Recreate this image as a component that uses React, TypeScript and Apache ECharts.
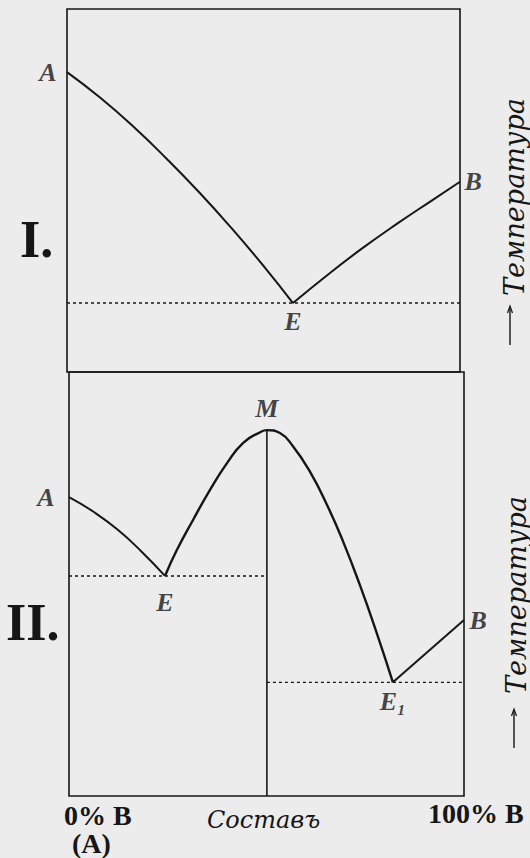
import React, { useEffect, useRef } from "react";
import * as echarts from "echarts";

// ---------- Panel I: simple eutectic (composition % B vs. temperature, relative units)
const p1CurveAE: number[][] = [
  [0, 82.6], [8.4, 75.6], [16.8, 67.7], [25.4, 58.7], [33.8, 49.3], [42.2, 39.2], [50.4, 28.7], [57.5, 19.0],
];
const p1CurveEB: number[][] = [
  [57.5, 19.0], [67.4, 27.7], [75.8, 34.6], [84.2, 41.0], [92.9, 47.3], [100, 52.4],
];
const p1Eutectic: number[][] = [[0, 19.0], [100, 19.0]];

// ---------- Panel II: compound M with two eutectics E and E1
const p2CurveAE: number[][] = [
  [0, 70.5], [6.1, 67.1], [12.2, 62.9], [18.2, 57.8], [24.3, 51.9],
];
const p2CurveEME1: number[][] = [
  [24.3, 51.9], [27.3, 58.0], [31.4, 65.1], [35.7, 72.2], [40.0, 78.5], [44.1, 83.3], [48.4, 85.8],
  [50.1, 86.3], [53.4, 85.6], [56.7, 82.5], [61.0, 76.5], [65.3, 68.7], [69.4, 60.0], [73.7, 49.6],
  [78.0, 38.2], [82.0, 26.8],
];
const p2CurveE1B: number[][] = [[82.0, 26.8], [100, 41.5]];
const p2EutecticE: number[][] = [[0, 51.9], [50.1, 51.9]];
const p2EutecticE1: number[][] = [[50.1, 26.8], [100, 26.8]];
const p2Compound: number[][] = [[50.1, 86.3], [50.1, 0]];

// ---------- Texts
const p1Names = ["A", "E", "B"];
const p2Names = ["A", "E", "M", "E₁", "B"];
const panelTitles = ["I.", "II."];
const tempLabel = "Температура";
const xLabels = ["0% B", "(A)", "100% B"];
const xTitle = "Составъ";

const INK = "#161616";
const BG = "#ececec";
const SERIF = "'Liberation Serif', 'DejaVu Serif', serif";

function curve(data: number[][], gi: number, width: number, extra: any = {}) {
  return {
    type: "line",
    xAxisIndex: gi,
    yAxisIndex: gi,
    data,
    symbol: "none",
    silent: true,
    lineStyle: { color: INK, width, ...(extra.lineStyle || {}) },
    smooth: extra.smooth ?? false,
    z: extra.z ?? 3,
  };
}

function letterPoint(value: number[], text: string, position: string, distance: number) {
  return {
    value,
    label: {
      show: true,
      formatter: text,
      position,
      distance,
      color: INK,
      fontFamily: SERIF,
      fontStyle: "italic",
      fontWeight: "bold",
      fontSize: 26,
    },
  };
}

export default function App() {
  const ref = useRef<HTMLDivElement>(null);

  useEffect(() => {
    if (!ref.current) return;
    const chart = echarts.init(ref.current, undefined, { renderer: "svg" });

    const dotted = { lineStyle: { type: [3, 3], width: 1.4 }, z: 2 };

    const option: any = {
      animation: false,
      backgroundColor: BG,
      grid: [
        { left: 67, top: 9, width: 393, height: 363, show: true, borderColor: INK, borderWidth: 1.6, backgroundColor: "transparent" },
        { left: 69, top: 372, width: 395, height: 424, show: true, borderColor: INK, borderWidth: 1.6, backgroundColor: "transparent" },
      ],
      xAxis: [0, 1].map((i) => ({
        type: "value", gridIndex: i, min: 0, max: 100, show: false,
      })),
      yAxis: [0, 1].map((i) => ({
        type: "value", gridIndex: i, min: 0, max: 100, show: false,
      })),
      series: [
        // Panel I
        curve(p1CurveAE, 0, 2, { smooth: true }),
        curve(p1CurveEB, 0, 2, { smooth: true }),
        curve(p1Eutectic, 0, 1.4, dotted),
        {
          type: "scatter", xAxisIndex: 0, yAxisIndex: 0, symbolSize: 1, silent: true,
          itemStyle: { color: "transparent" },
          data: [
            letterPoint(p1CurveAE[0], p1Names[0], "left", 10),
            letterPoint(p1CurveEB[0], p1Names[1], "bottom", 5),
            letterPoint(p1CurveEB[p1CurveEB.length - 1], p1Names[2], "right", 4),
          ],
        },
        // Panel II
        curve(p2CurveAE, 1, 2, { smooth: true }),
        curve(p2CurveEME1, 1, 2.4, { smooth: true }),
        curve(p2CurveE1B, 1, 2),
        curve(p2EutecticE, 1, 1.4, dotted),
        curve(p2EutecticE1, 1, 1.4, dotted),
        curve(p2Compound, 1, 1.6),
        {
          type: "scatter", xAxisIndex: 1, yAxisIndex: 1, symbolSize: 1, silent: true,
          itemStyle: { color: "transparent" },
          data: [
            letterPoint(p2CurveAE[0], p2Names[0], "left", 14),
            letterPoint(p2CurveAE[p2CurveAE.length - 1], p2Names[1], "bottom", 13),
            letterPoint(p2Compound[0], p2Names[2], "top", 8),
            letterPoint(p2CurveE1B[0], p2Names[3], "bottom", 6),
            letterPoint(p2CurveE1B[1], p2Names[4], "right", 5),
          ],
        },
      ],
      graphic: [
        { type: "text", left: 20, top: 213, style: { text: panelTitles[0], font: `bold 52px ${SERIF}`, fill: INK } },
        { type: "text", left: 6, top: 596, style: { text: panelTitles[1], font: `bold 52px ${SERIF}`, fill: INK } },
        // Temperature labels (rotated, reading upward) with arrows
        {
          type: "text", x: 514, y: 197, rotation: Math.PI / 2,
          style: { text: tempLabel, font: `italic 27px 'DejaVu Serif', serif`, fill: INK, align: "center", verticalAlign: "middle", textAlign: "center", textVerticalAlign: "middle" },
        },
        { type: "line", shape: { x1: 510, y1: 345, x2: 510, y2: 307 }, style: { stroke: INK, lineWidth: 1.4 } },
        { type: "polyline", shape: { points: [[507.5, 313], [510, 306], [512.5, 313]] }, style: { stroke: INK, lineWidth: 1.2, fill: "none" } },
        {
          type: "text", x: 516, y: 595, rotation: Math.PI / 2,
          style: { text: tempLabel, font: `italic 27px 'DejaVu Serif', serif`, fill: INK, align: "center", verticalAlign: "middle", textAlign: "center", textVerticalAlign: "middle" },
        },
        { type: "line", shape: { x1: 514, y1: 748, x2: 514, y2: 710 }, style: { stroke: INK, lineWidth: 1.4 } },
        { type: "polyline", shape: { points: [[511.5, 716], [514, 709], [516.5, 716]] }, style: { stroke: INK, lineWidth: 1.2, fill: "none" } },
        // Composition axis labels
        { type: "text", left: 64, top: 801, style: { text: xLabels[0], font: `bold 28px ${SERIF}`, fill: INK } },
        { type: "text", left: 72, top: 829, style: { text: xLabels[1], font: `bold 28px ${SERIF}`, fill: INK } },
        { type: "text", left: 428, top: 799, style: { text: xLabels[2], font: `bold 28px ${SERIF}`, fill: INK } },
        { type: "text", left: 207, top: 808, style: { text: xTitle, font: `italic 24px 'DejaVu Serif', serif`, fill: INK } },
      ],
    };

    chart.setOption(option);
    return () => chart.dispose();
  }, []);

  return (
    <div
      ref={ref}
      style={{ position: "absolute", left: 0, top: 0, width: 530, height: 858, background: BG }}
    />
  );
}
